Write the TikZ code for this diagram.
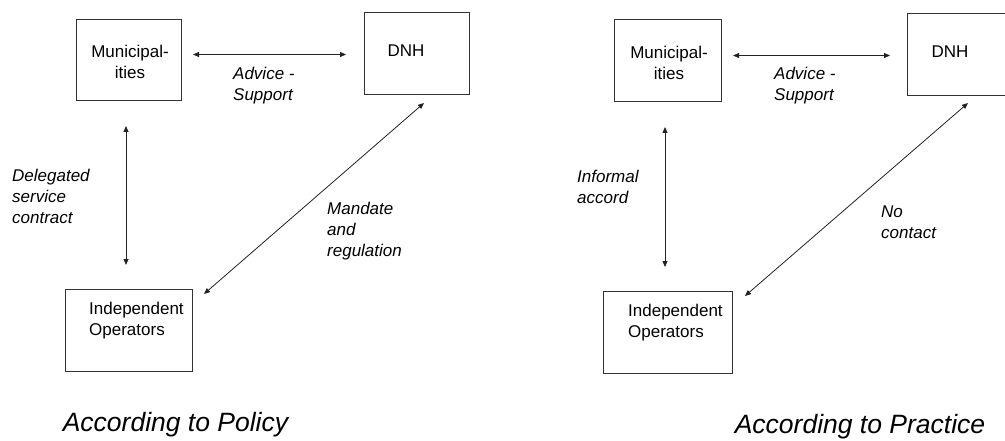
\documentclass[tikz,border=0pt]{standalone}
\usepackage{fontspec}
\setmainfont{Liberation Sans}
\usetikzlibrary{arrows.meta}
\definecolor{boxline}{HTML}{333333}
\definecolor{arrline}{HTML}{222222}
\tikzset{
  box/.style={draw=boxline, line width=1pt, rectangle, inner sep=0pt},
  boxtext/.style={inner sep=0pt, font=\fontsize{17}{21}\selectfont, align=left},
  lbl/.style={inner sep=0pt, anchor=west, align=left, font=\fontsize{17}{21}\selectfont\itshape},
  ttl/.style={inner sep=0pt, font=\fontsize{26.5}{30}\selectfont\itshape},
  arr/.style={draw=arrline, line width=0.8pt, {Triangle[length=6pt,width=5pt]}-{Triangle[length=6pt,width=5pt]}}
}
\begin{document}
\begin{tikzpicture}[x=1pt,y=-1pt]
\useasboundingbox (0,0) rectangle (1005,441);
% ---------- Left panel ----------
\node[box, minimum width=105pt, minimum height=81.5pt] (munL) at (128.5,60.25) {};
\node[boxtext, align=center] (munLt) at (130,61.5) {Municipal-\\ities};
\node[box, minimum width=105pt, minimum height=82pt] (dnhL) at (416.5,54) {};
\node[boxtext] (dnhLt) at (406,51) {DNH};
\node[box, minimum width=127pt, minimum height=82pt] (indL) at (128.5,330) {};
\node[boxtext, anchor=west] (indLt) at (89,320.5) {Independent\\Operators};

\coordinate (hL1) at (193,54.5);
\coordinate (hL2) at (346,54.5);
\draw[arr] (hL1) -- (hL2);
\coordinate (vL1) at (126,126);
\coordinate (vL2) at (126,265);
\draw[arr] (vL1) -- (vL2);
\coordinate (dL1) at (424,103);
\coordinate (dL2) at (204,294);
\draw[arr] (dL1) -- (dL2);

\node[lbl] (advL) at (233,85.5) {Advice -\\Support};
\node[lbl] (delL) at (12,196) {Delegated\\service\\contract};
\node[lbl] (manL) at (327,231) {Mandate\\and\\regulation};
\node[ttl] (polL) at (175.5,425) {According to Policy};

% ---------- Right panel ----------
\node[box, minimum width=107pt, minimum height=82pt] (munR) at (667.5,61) {};
\node[boxtext, align=center] (munRt) at (669,62.5) {Municipal-\\ities};
\node[box, minimum width=105pt, minimum height=82.5pt] (dnhR) at (959.5,54.75) {};
\node[boxtext] (dnhRt) at (950,52) {DNH};
\node[box, minimum width=129pt, minimum height=82pt] (indR) at (667.5,332) {};
\node[boxtext, anchor=west] (indRt) at (628,322.5) {Independent\\Operators};

\coordinate (hR1) at (733,55.5);
\coordinate (hR2) at (890,55.5);
\draw[arr] (hR1) -- (hR2);
\coordinate (vR1) at (665,127);
\coordinate (vR2) at (665,267);
\draw[arr] (vR1) -- (vR2);
\coordinate (dR1) at (968,103);
\coordinate (dR2) at (745,296);
\draw[arr] (dR1) -- (dR2);

\node[lbl] (advR) at (774,86) {Advice -\\Support};
\node[lbl] (infR) at (577,187) {Informal\\accord};
\node[lbl] (noR) at (881,222) {No\\contact};
\node[ttl] (praR) at (860,427) {According to Practice};
\end{tikzpicture}
\end{document}
